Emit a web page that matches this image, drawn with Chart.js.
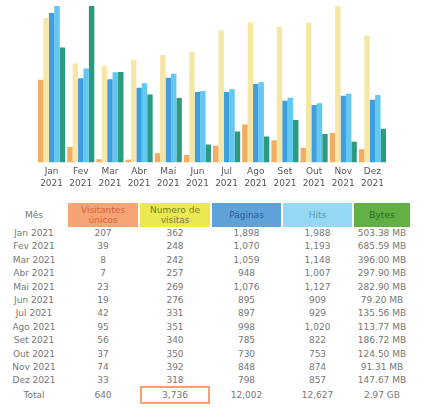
<!DOCTYPE html>
<html>
<head>
<meta charset="utf-8">
<script src="https://cdn.jsdelivr.net/npm/chart.js@4.4.1/dist/chart.umd.min.js"></script>
<style>
  body { margin: 0; background: #fff; font-family: "DejaVu Sans", Verdana, sans-serif; }
  #wrap { position: relative; width: 423px; height: 420px; overflow: hidden; }
  #chartBox { position: absolute; left: 0; top: 0; width: 423px; height: 195px; }
  table { position: absolute; left: 0; top: 203px; border-collapse: separate; border-spacing: 2px 0; table-layout: fixed; font-size: 9px; color: #777; }
  th { font-weight: normal; height: 24px; line-height: 10px; padding: 0; text-align: center; }
  td { height: 13.4px; line-height: 13.4px; padding: 0; text-align: center; white-space: nowrap; }
  tr.total td { height: 14px; line-height: 14px; }
  .tot span { display: inline-block; border: 2px solid #f2a472; width: 66px; line-height: 14px; margin: -2px 0; vertical-align: middle; }
</style>
</head>
<body>
<div id="wrap">
  <div id="chartBox"><canvas id="myChart" width="423" height="195"></canvas></div>
  <table id="tbl">
    <colgroup>
      <col style="width:64px"><col style="width:70px"><col style="width:70px">
      <col style="width:69px"><col style="width:69px"><col style="width:56px">
    </colgroup>
    <thead>
      <tr>
        <th>Mês</th>
        <th style="background:#f6a474;color:#d2603c">Visitantes<br>únicos</th>
        <th style="background:#eaea50;color:#7a7a30">Numero de<br>visitas</th>
        <th style="background:#5ea2da;color:#2c5e9a">Páginas</th>
        <th style="background:#94d8f4;color:#5c98b4">Hits</th>
        <th style="background:#62b044;color:#2e6a24">Bytes</th>
      </tr>
    </thead>
    <tbody id="rows"></tbody>
  </table>
</div>
<script>
var months = ['Jan', 'Fev', 'Mar', 'Abr', 'Mai', 'Jun', 'Jul', 'Ago', 'Set', 'Out', 'Nov', 'Dez'];
var year = '2021';

var visitors = [207, 39, 8, 7, 23, 19, 42, 95, 56, 37, 74, 33];
var visits = [362, 248, 242, 257, 269, 276, 331, 351, 340, 350, 392, 318];
var pages = [1898, 1070, 1059, 948, 1076, 895, 897, 998, 785, 730, 848, 798];
var hits = [1988, 1193, 1148, 1007, 1127, 909, 929, 1020, 822, 753, 874, 857];
var bytesMB = [503.38, 685.59, 396.00, 297.90, 282.90, 79.20, 135.56, 113.77, 186.72, 124.50, 91.31, 147.67];
var totals = ['640', '3,736', '12,002', '12,627', '2.97 GB'];

var colors = {
  visitors: '#f1ae62',
  visits: '#f6e7a6',
  pages: '#3f9ee0',
  hits: '#62c8ef',
  bytes: '#2b9a7e'
};

var ctx = document.getElementById('myChart').getContext('2d');

var myChart = new Chart(ctx, {
  type: 'bar',
  data: {
    labels: months.map(function (m) { return [m, year]; }),
    datasets: [
      { label: 'Visitantes únicos', data: visitors, backgroundColor: colors.visitors, yAxisID: 'yV' },
      { label: 'Numero de visitas', data: visits, backgroundColor: colors.visits, yAxisID: 'yV' },
      { label: 'Páginas', data: pages, backgroundColor: colors.pages, yAxisID: 'yP' },
      { label: 'Hits', data: hits, backgroundColor: colors.hits, yAxisID: 'yP' },
      { label: 'Bytes', data: bytesMB, backgroundColor: colors.bytes, yAxisID: 'yB' }
    ]
  },
  options: {
    responsive: false,
    animation: false,
    barPercentage: 1,
    categoryPercentage: 0.93,
    layout: { padding: { left: 37, right: 36, top: 6, bottom: 2 } },
    plugins: { legend: { display: false }, tooltip: { enabled: false } },
    scales: {
      x: {
        grid: { display: false, drawTicks: false },
        border: { display: false },
        ticks: {
          color: '#555',
          padding: 4,
          maxRotation: 0,
          autoSkip: false,
          font: { family: 'DejaVu Sans', size: 9, lineHeight: 1.25 }
        }
      },
      // each measure has its own scale, like in AWStats
      yV: { display: false, min: 0, max: Math.max.apply(null, visits) },
      yP: { display: false, min: 0, max: Math.max.apply(null, hits) },
      yB: { display: false, min: 0, max: Math.max.apply(null, bytesMB) }
    }
  }
});

function fmt(n) { return n.toLocaleString('en-US'); }

var tbody = document.getElementById('rows');
var html = '';
for (var i = 0; i < months.length; i++) {
  html += '<tr><td>' + months[i] + ' ' + year + '</td>' +
    '<td>' + visitors[i] + '</td>' +
    '<td>' + visits[i] + '</td>' +
    '<td>' + fmt(pages[i]) + '</td>' +
    '<td>' + fmt(hits[i]) + '</td>' +
    '<td>' + bytesMB[i].toFixed(2) + ' MB</td></tr>';
}
html += '<tr class="total"><td>Total</td><td>' + totals[0] + '</td>' +
  '<td class="tot"><span>' + totals[1] + '</span></td>' +
  '<td>' + totals[2] + '</td><td>' + totals[3] + '</td><td>' + totals[4] + '</td></tr>';
tbody.innerHTML = html;
</script>
</body>
</html>
